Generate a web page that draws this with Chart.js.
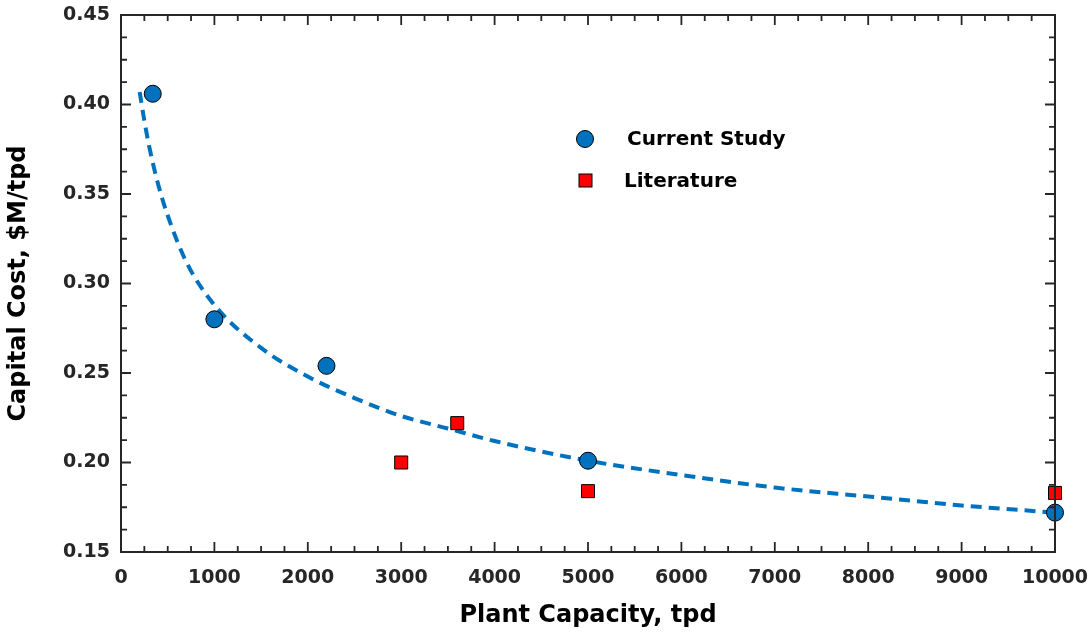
<!DOCTYPE html>
<html>
<head>
<meta charset="utf-8">
<script src="https://cdn.jsdelivr.net/npm/chart.js@4"></script>
<style>
  html, body { margin: 0; padding: 0; background: #fff; }
  #wrap { width: 1088px; height: 634px; }
</style>
</head>
<body>
<div id="wrap"><canvas id="myChart" width="1088" height="634"></canvas></div>
<script>
const ctx = document.getElementById('myChart');

// data
const STUDY_x = [340, 1000, 2200, 5000, 10000];
const STUDY_y = [0.406, 0.280, 0.254, 0.201, 0.172];

const LIT_x = [3000, 3600, 5000, 10000];
const LIT_y = [0.200, 0.222, 0.184, 0.183];

const FIT_x = [200, 250, 300, 400, 500, 700, 1000, 1500, 2000, 2500, 3000, 3500, 4000, 5000, 6000, 7000, 8000, 9000, 10000];
const FIT_y = [0.407, 0.391, 0.377, 0.355, 0.338, 0.312, 0.288, 0.264, 0.248, 0.236, 0.226, 0.219, 0.212, 0.201, 0.193, 0.186, 0.181, 0.176, 0.172];

const LEGEND_labels = ['Current Study', 'Literature'];

const X_MIN = 0, X_MAX = 10000, X_STEP = 1000, X_MINOR = 250;
const Y_MIN = 0.15, Y_MAX = 0.45, Y_STEP = 0.05, Y_MINOR = 0.0125;

const AXIS_COLOR = '#262626';
const BLUE = '#0072BD';
const FONT = '"DejaVu Sans", sans-serif';

function pts(xs, ys) {
    return xs.map((x, i) => ({x: x, y: ys[i]}));
}

// frame with inward ticks on all four sides + legend inside plot
const framePlugin = {
    id: 'frame',
    afterDraw(chart) {
        const c = chart.ctx;
        const a = chart.chartArea;
        const xs = chart.scales.x, ys = chart.scales.y;
        c.save();
        c.strokeStyle = AXIS_COLOR;
        c.lineWidth = 2;
        c.strokeRect(a.left, a.top, a.right - a.left, a.bottom - a.top);
        c.lineWidth = 1.8;
        c.beginPath();
        for (let v = X_MIN; v <= X_MAX + 1e-6; v += X_MINOR) {
            const px = xs.getPixelForValue(v);
            const major = Math.abs(v / X_STEP - Math.round(v / X_STEP)) < 1e-6;
            const len = major ? 10 : 6;
            c.moveTo(px, a.bottom); c.lineTo(px, a.bottom - len);
            c.moveTo(px, a.top); c.lineTo(px, a.top + len);
        }
        for (let v = Y_MIN; v <= Y_MAX + 1e-6; v += Y_MINOR) {
            const py = ys.getPixelForValue(v);
            const r = (v - Y_MIN) / Y_STEP;
            const major = Math.abs(r - Math.round(r)) < 1e-6;
            const len = major ? 10 : 6;
            c.moveTo(a.left, py); c.lineTo(a.left + len, py);
            c.moveTo(a.right, py); c.lineTo(a.right - len, py);
        }
        c.stroke();

        // legend
        c.font = 'bold 20px ' + FONT;
        c.textBaseline = 'middle';
        c.lineWidth = 1;
        c.strokeStyle = '#000';
        c.beginPath();
        c.arc(585, 139, 8.5, 0, Math.PI * 2);
        c.fillStyle = BLUE;
        c.fill();
        c.stroke();
        c.fillStyle = '#000';
        c.fillText(LEGEND_labels[0], 627, 140);
        c.fillStyle = '#ff0000';
        c.fillRect(579, 174, 13, 13);
        c.strokeRect(579, 174, 13, 13);
        c.fillStyle = '#000';
        c.fillText(LEGEND_labels[1], 624, 182);
        c.restore();
    }
};

window.myChart = new Chart(ctx, {
    type: 'scatter',
    data: {
        datasets: [{
            label: LEGEND_labels[0],
            data: pts(STUDY_x, STUDY_y),
            pointStyle: 'circle',
            pointRadius: 8.5,
            backgroundColor: BLUE,
            borderColor: '#000',
            borderWidth: 1,
            clip: false,
            order: 1
        }, {
            label: LEGEND_labels[1],
            data: pts(LIT_x, LIT_y),
            pointStyle: 'rect',
            pointRadius: 9.2,
            backgroundColor: '#ff0000',
            borderColor: '#000',
            borderWidth: 1,
            clip: false,
            order: 0
        }, {
            label: 'fit',
            type: 'line',
            data: pts(FIT_x, FIT_y),
            borderColor: BLUE,
            borderWidth: 4,
            borderDash: [11, 7],
            pointRadius: 0,
            cubicInterpolationMode: 'monotone',
            fill: false,
            order: 3
        }]
    },
    options: {
        responsive: false,
        animation: false,
        layout: { padding: { left: 0, top: 15, right: 33, bottom: 0 } },
        plugins: {
            legend: { display: false },
            tooltip: { enabled: false }
        },
        scales: {
            x: {
                type: 'linear',
                min: X_MIN, max: X_MAX,
                grid: { display: false, drawTicks: false },
                border: { display: false },
                ticks: {
                    stepSize: X_STEP,
                    padding: 15,
                    color: AXIS_COLOR,
                    font: { family: FONT, size: 19, weight: 'bold' },
                    maxRotation: 0,
                    callback: v => String(v)
                },
                title: {
                    display: true,
                    text: 'Plant Capacity, tpd',
                    color: '#000',
                    padding: { top: 5 },
                    font: { family: FONT, size: 24, weight: 'bold' }
                },
                afterFit(scale) {
                    scale.height = 82;
                    scale.paddingLeft = 0;
                    scale.paddingRight = 0;
                }
            },
            y: {
                type: 'linear',
                min: Y_MIN, max: Y_MAX,
                grid: { display: false, drawTicks: false },
                border: { display: false },
                ticks: {
                    stepSize: Y_STEP,
                    padding: 11,
                    color: AXIS_COLOR,
                    font: { family: FONT, size: 19, weight: 'bold' },
                    callback: v => v.toFixed(2)
                },
                title: {
                    display: true,
                    text: 'Capital Cost, $M/tpd',
                    color: '#000',
                    padding: { top: 4, bottom: 0 },
                    font: { family: FONT, size: 24, weight: 'bold' }
                },
                afterFit(scale) {
                    scale.width = 121;
                    scale.paddingTop = 0;
                    scale.paddingBottom = 0;
                }
            }
        }
    },
    plugins: [framePlugin]
});
</script>
</body>
</html>
